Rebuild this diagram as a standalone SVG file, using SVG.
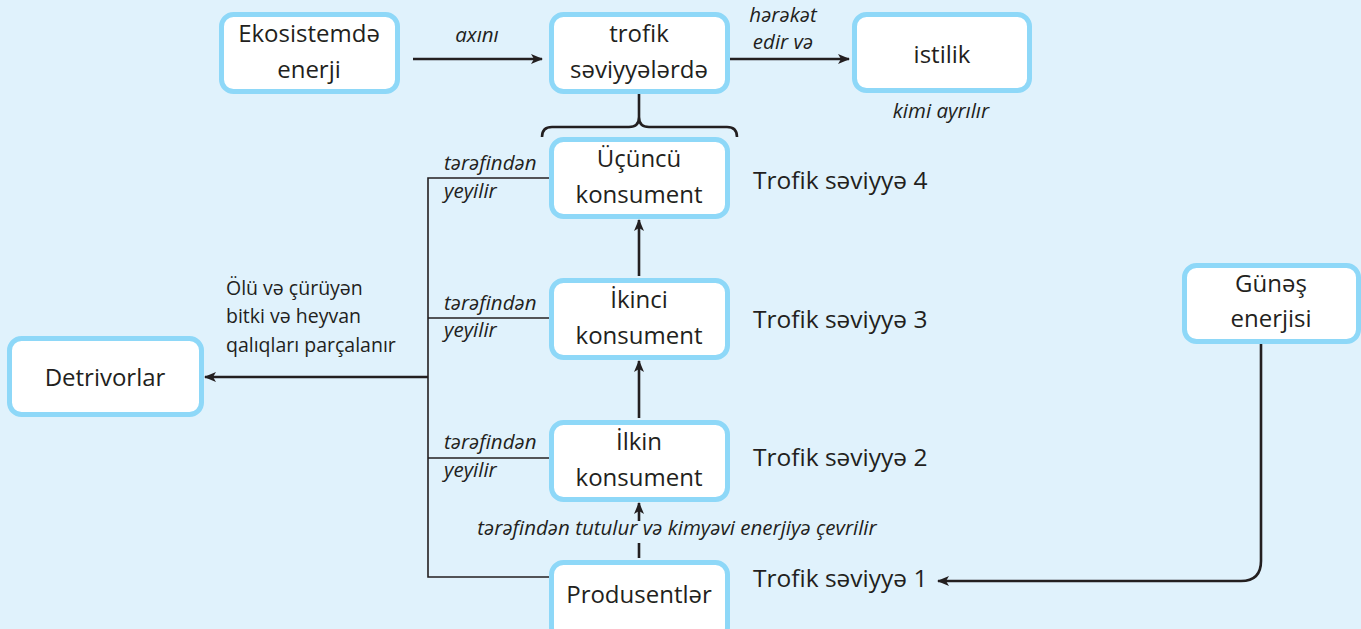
<svg xmlns="http://www.w3.org/2000/svg" width="1361" height="629" viewBox="0 0 1361 629">
<style>
.bg{fill:#e0f2fc}
.node{fill:#ffffff;stroke:#8ed8f8;stroke-width:5}
.t{font-family:"Open Sans","Noto Sans","DejaVu Sans",sans-serif;font-size:24px;fill:#231f20}
.m{text-anchor:middle}
.s{font-size:19.5px}
.l{font-size:24.5px}
.i{font-family:"Open Sans","Noto Sans","DejaVu Sans",sans-serif;font-style:italic;font-size:20.5px;fill:#231f20}
.c{fill:none;stroke:#231f20;stroke-width:2.6}
.thin{fill:none;stroke:#231f20;stroke-width:1.6}
</style>
<defs>
<marker id="ah" viewBox="0 0 12 10" refX="11" refY="5" markerWidth="12" markerHeight="10" orient="auto" markerUnits="userSpaceOnUse">
<path d="M0,0 L12,5 L0,10 L3,5 z" fill="#231f20"/>
</marker>
</defs>
<rect class="bg" x="0" y="0" width="1361" height="629"/>

<g id="connectors">
<path class="c" d="M413,59 H542" marker-end="url(#ah)"/>
<path class="c" d="M730,59 H849" marker-end="url(#ah)"/>
<path class="c" d="M639,94 V117"/>
<path class="c" d="M542,137 Q542,127 552,127 H629 Q639,127 639,117 Q639,127 649,127 H727 Q737,127 737,137"/>
<path class="c" d="M639,276 V220" marker-end="url(#ah)"/>
<path class="c" d="M639,418 V361" marker-end="url(#ah)"/>
<path class="c" d="M639,558 V543"/>
<path class="c" d="M639,521 V503" marker-end="url(#ah)"/>
<path class="thin" d="M549,178 H428 V577 H549"/>
<path class="thin" d="M428,318 H549"/>
<path class="thin" d="M428,458 H549"/>
<path class="c" d="M428,377 H205" marker-end="url(#ah)"/>
<path class="c" d="M1261,344 V561 Q1261,581 1241,581 H938" marker-end="url(#ah)"/>
</g>

<g id="n-ekosistem">
<rect class="node" x="221.5" y="14.5" width="176" height="77" rx="12"/>
<text class="t m" x="309" y="42">Ekosistemdə</text>
<text class="t m" x="309" y="78">enerji</text>
</g>
<g id="n-trofik">
<rect class="node" x="551.5" y="14.5" width="176" height="77" rx="12"/>
<text class="t m" x="639" y="42">trofik</text>
<text class="t m" x="639" y="78">səviyyələrdə</text>
</g>
<g id="n-istilik">
<rect class="node" x="854.5" y="14.5" width="175" height="76" rx="12"/>
<text class="t m" x="942" y="63">istilik</text>
</g>
<g id="n-ucuncu">
<rect class="node" x="551.5" y="139.5" width="176" height="77" rx="12"/>
<text class="t m" x="639" y="167">Üçüncü</text>
<text class="t m" x="639" y="203">konsument</text>
</g>
<g id="n-ikinci">
<rect class="node" x="551.5" y="280.5" width="176" height="77" rx="12"/>
<text class="t m" x="639" y="308">İkinci</text>
<text class="t m" x="639" y="344">konsument</text>
</g>
<g id="n-ilkin">
<rect class="node" x="551.5" y="422.5" width="176" height="77" rx="12"/>
<text class="t m" x="639" y="450">İlkin</text>
<text class="t m" x="639" y="486">konsument</text>
</g>
<g id="n-produsent">
<rect class="node" x="551.5" y="562.5" width="176" height="77" rx="12"/>
<text class="t m" x="639" y="603">Produsentlər</text>
</g>
<g id="n-detrivor">
<rect class="node" x="9.5" y="338.5" width="192" height="76" rx="12"/>
<text class="t m" x="105" y="386">Detrivorlar</text>
</g>
<g id="n-gunes">
<rect class="node" x="1184.5" y="265.5" width="174" height="76" rx="12"/>
<text class="t m" x="1271" y="292">Günəş</text>
<text class="t m" x="1271" y="327">enerjisi</text>
</g>

<g id="labels">
<text class="i m" x="477" y="42">axını</text>
<text class="i m" x="783" y="22">hərəkət</text>
<text class="i m" x="783" y="49">edir və</text>
<text class="i m" x="941" y="118">kimi ayrılır</text>
<text class="i" x="444" y="170">tərəfindən</text>
<text class="i" x="444" y="198">yeyilir</text>
<text class="i" x="444" y="310">tərəfindən</text>
<text class="i" x="444" y="337">yeyilir</text>
<text class="i" x="444" y="449">tərəfindən</text>
<text class="i" x="444" y="477">yeyilir</text>
<text class="i m" x="677" y="535">tərəfindən tutulur və kimyəvi enerjiyə çevrilir</text>
<text class="t s" x="226" y="295">Ölü və çürüyən</text>
<text class="t s" x="226" y="323">bitki və heyvan</text>
<text class="t s" x="226" y="352">qalıqları parçalanır</text>
<text class="t l" x="753" y="189">Trofik səviyyə 4</text>
<text class="t l" x="753" y="328">Trofik səviyyə 3</text>
<text class="t l" x="753" y="466">Trofik səviyyə 2</text>
<text class="t l" x="753" y="587">Trofik səviyyə 1</text>
</g>
</svg>
